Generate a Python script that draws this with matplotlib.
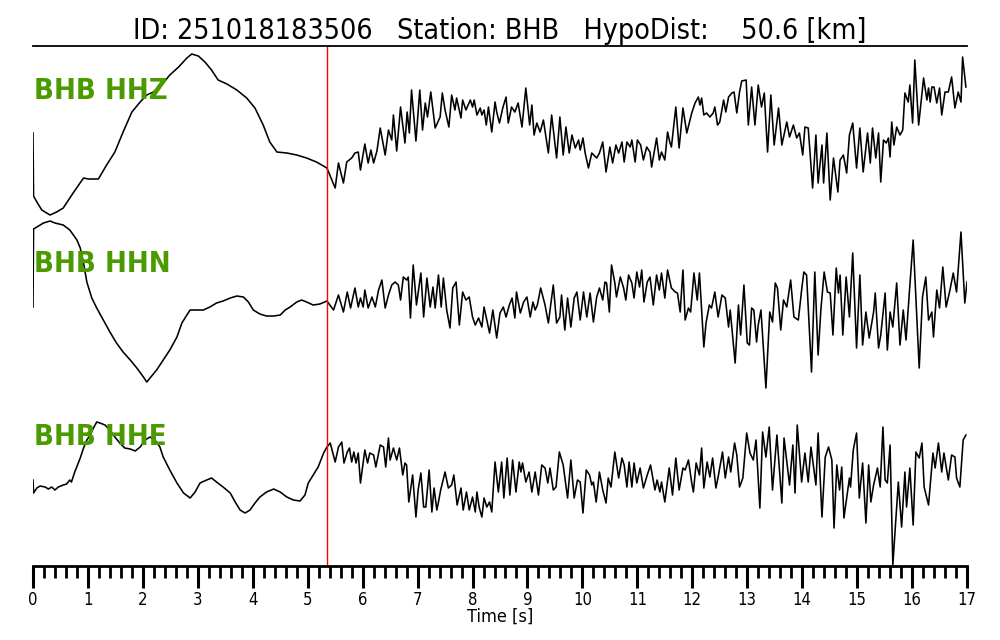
import matplotlib
matplotlib.use("Agg")
import matplotlib.pyplot as plt
from matplotlib.ticker import MultipleLocator

# --- waveform data (time in s, amplitude in arbitrary counts) ---
HHZ_T = [0.0, 0.01, 0.07, 0.16, 0.31, 0.43, 0.55, 0.73, 0.92, 1.01,
         1.19, 1.34, 1.49, 1.64, 1.80, 1.95, 2.07, 2.19, 2.34, 2.49,
         2.65, 2.80, 2.89, 3.01, 3.13, 3.25, 3.37, 3.53, 3.71, 3.89,
         4.04, 4.19, 4.31, 4.44, 4.62, 4.80, 4.98, 5.16, 5.35,
         5.50, 5.56, 5.65, 5.71, 5.80, 5.86, 5.92, 5.96, 6.04, 6.10,
         6.15, 6.20, 6.26, 6.32, 6.41, 6.47, 6.53, 6.56, 6.62, 6.69,
         6.77, 6.81, 6.85, 6.89, 6.97, 7.04, 7.09, 7.14, 7.18, 7.24,
         7.32, 7.41, 7.45, 7.50, 7.57, 7.62, 7.68, 7.71, 7.79, 7.82,
         7.88, 7.96, 8.00, 8.03, 8.08, 8.14, 8.17, 8.21, 8.25, 8.29,
         8.35, 8.41, 8.44, 8.49, 8.55, 8.61, 8.65, 8.71, 8.77, 8.83,
         8.90, 8.97, 9.04, 9.08, 9.12, 9.17, 9.23, 9.29, 9.38, 9.44,
         9.53, 9.59, 9.65, 9.70, 9.76, 9.81, 9.87, 9.93, 9.96, 10.01,
         10.05, 10.11, 10.17, 10.26, 10.31, 10.37, 10.43, 10.50, 10.55, 10.61,
         10.66, 10.72, 10.76, 10.81, 10.87, 10.90, 10.96, 11.00, 11.06, 11.11,
         11.17, 11.23,
         11.26, 11.35, 11.40, 11.44, 11.50, 11.55, 11.59, 11.62, 11.70, 11.76,
         11.83, 11.90, 11.99, 12.05, 12.11, 12.14, 12.17, 12.21, 12.26, 12.32,
         12.38, 12.41, 12.46, 12.50, 12.57, 12.61, 12.66, 12.72, 12.76, 12.81,
         12.86, 12.90, 12.98, 13.02, 13.08, 13.14, 13.20, 13.26, 13.31, 13.37,
         13.43, 13.49, 13.57, 13.63, 13.72, 13.77, 13.84, 13.90, 13.95, 14.01,
         14.05, 14.11, 14.19, 14.25, 14.29, 14.36, 14.39, 14.45, 14.51, 14.57,
         14.65, 14.69, 14.75, 14.81, 14.86, 14.92, 14.99, 15.05, 15.11, 15.19,
         15.24, 15.28, 15.34, 15.39, 15.43, 15.48, 15.53, 15.57, 15.60, 15.63,
         15.67, 15.72, 15.78, 15.83, 15.87, 15.93, 15.96, 16.01, 16.05, 16.12,
         16.21, 16.27, 16.30, 16.33, 16.36, 16.40, 16.45, 16.50, 16.54, 16.60,
         16.66, 16.72, 16.78, 16.84, 16.89, 16.92, 16.98]
HHZ_A = [-7, -70, -76, -84, -89, -86, -82, -67, -52, -53,
         -53, -39, -26, -6, 14, 24, 31, 34, 41, 51,
         59, 68, 72, 70, 64, 56, 46, 42, 36, 28,
         18, 1, -16, -26, -27, -29, -32, -36, -42,
         -62, -37, -57, -36, -32, -27, -26, -44, -18, -37,
         -24, -37, -25, -2, -29, -4, -14, 11, -25, 19,
         -17, 14, -7, 36, -15, 36, -4, 23, 9, 34,
         -2, 9, 33, 16, -1, 31, 16, 28, 8, 26,
         16, 26, 19, 26, 11, 18, 11, 16, 1, 19,
         -6, 24, 14, 3, 18, 29, 3, 19, 14, 23,
         -1, 38, 1, 21, -9, 3, -6, 6, -27, 11,
         -32, 9, -29, -1, -27, -9, -22, -14, -24, -12,
         -27, -42, -27, -32, -27, -16, -46, -21, -37, -19,
         -27, -16, -36, -16, -21, -14, -36, -14, -19, -34,
         -21, -26,
         -41, -12, -34, -26, -34, -6, -16, -21, 19, -22,
         18, -7, 13, 23, 29, 21, 28, 11, 13, 9,
         13, 19, 1, 4, 26, 14, 29, 33, 34, 13,
         34, 45, 46, 1, 39, 1, 41, 19, 33, -26,
         31, -19, 18, -19, 4, -11, 1, -12, -7, -29,
         -1, -2, -62, -9, -57, -19, -57, -7, -74, -32,
         -66, -34, -29, -47, -9, 3, -42, -2, -46, -7,
         -37, -2, -32, -7, -56, -14, -17, -12, -31, 4,
         -19, -1, -9, -4, 33, 24, 41, 3, 66, 1,
         48, 26, 38, 24, 39, 39, 23, 38, 11, 34,
         34, 49, 18, 34, 24, 69, 39]

HHN_T = [0.0, 0.01, 0.07, 0.19, 0.31, 0.40, 0.55, 0.67, 0.80, 0.86,
         0.92, 0.98, 1.07, 1.16, 1.28, 1.40, 1.52, 1.64, 1.77, 1.89,
         2.01, 2.07, 2.13, 2.25, 2.37, 2.49, 2.62, 2.71, 2.80, 2.86,
         2.98, 3.10, 3.22, 3.34, 3.46, 3.59, 3.71, 3.83, 3.92, 4.01,
         4.13, 4.25, 4.38, 4.50, 4.59, 4.68, 4.80, 4.89, 4.98, 5.10,
         5.22, 5.35,
         5.47, 5.56, 5.65, 5.72, 5.78, 5.86, 5.92, 5.96, 6.01, 6.04,
         6.10, 6.17, 6.23, 6.29, 6.35, 6.41, 6.47, 6.53, 6.59, 6.65,
         6.69, 6.74, 6.80, 6.83, 6.87, 6.92, 6.98, 7.06, 7.11, 7.17,
         7.23, 7.28, 7.32, 7.38, 7.43, 7.47, 7.53, 7.59, 7.64, 7.70,
         7.76, 7.82, 7.88, 7.94, 8.00, 8.05, 8.11, 8.17, 8.21, 8.26,
         8.31, 8.37, 8.44, 8.50, 8.56, 8.61, 8.67, 8.72, 8.77, 8.80,
         8.87, 8.93, 8.99, 9.05, 9.10, 9.14, 9.18, 9.24, 9.32, 9.38,
         9.47, 9.53, 9.59, 9.62, 9.68, 9.73, 9.79, 9.85, 9.90, 9.96,
         10.02, 10.08, 10.14, 10.20, 10.26, 10.31, 10.37, 10.41, 10.44, 10.49,
         10.53, 10.59, 10.62, 10.69, 10.75, 10.79, 10.84, 10.90, 10.94, 10.99,
         11.04, 11.08,
         11.12, 11.18, 11.23, 11.29, 11.35, 11.40, 11.44, 11.50, 11.55, 11.62,
         11.69, 11.73, 11.78, 11.83, 11.87, 11.93, 11.97, 12.03, 12.09, 12.13,
         12.21, 12.25, 12.31, 12.35, 12.41, 12.47, 12.54, 12.60, 12.66, 12.69,
         12.78, 12.84, 12.88, 12.94, 13.00, 13.04, 13.08, 13.12, 13.17, 13.20,
         13.25, 13.34, 13.41, 13.46, 13.51, 13.55, 13.61, 13.66, 13.72, 13.79,
         13.85, 13.93, 13.99, 14.03, 14.08, 14.17, 14.23, 14.29, 14.34, 14.40,
         14.46, 14.51, 14.56, 14.62, 14.66, 14.69, 14.74, 14.80, 14.86, 14.92,
         14.99, 15.05, 15.10, 15.16, 15.22, 15.30, 15.33, 15.39, 15.43, 15.51,
         15.55, 15.60, 15.65, 15.72, 15.78, 15.84, 15.89, 15.95, 16.02, 16.13,
         16.19, 16.25, 16.30, 16.36, 16.39, 16.45, 16.50, 16.56, 16.62, 16.69,
         16.75, 16.81, 16.89, 16.96, 17.0]
HHN_A = [-7, 71, 73, 77, 79, 77, 75, 70, 60, 52,
         37, 18, 2, -8, -20, -32, -43, -52, -60, -68,
         -77, -82, -78, -70, -60, -50, -37, -23, -15, -10,
         -10, -10, -7, -3, -1, 2, 4, 3, -2, -10,
         -14, -16, -16, -15, -10, -7, -2, 0, -2, -5,
         -4, -1,
         -10, 5, -12, 8, -8, 12, -7, 2, -7, 10,
         -8, 3, -7, 10, 20, -8, 5, 15, 18, 15,
         0, 23, 20, 23, -18, 35, -5, 27, -17, 22,
         -7, 13, -8, 25, -7, 22, -10, -28, 12, 18,
         -25, 8, 0, 3, -17, -25, -18, -27, -7, -20,
         -33, -10, -38, -13, -7, -17, -5, 2, -18, 8,
         -13, -2, 3, -17, -2, -10, -5, 12, -5, -23,
         15, -23, -17, 5, -30, 2, -27, 2, 8, -20,
         8, -17, 7, -22, 3, 12, 0, 18, 17, -12,
         35, 17, 3, 23, 12, 0, 25, 17, 2, 28,
         13, 30,
         -2, 18, 23, -5, 25, 10, 27, 2, 30, 12,
         8, 7, -12, 30, -20, -8, -12, 27, 0, 27,
         -47, -23, -5, -8, 8, -17, 5, 2, -27, -10,
         -63, -5, -35, 15, -43, -45, -8, -10, -42, -25,
         -10, -88, -12, -22, 17, 12, -30, 0, -7, 20,
         -17, -20, 10, 28, 25, -72, 28, -55, -10, 28,
         8, 7, -35, 32, 7, 25, -35, 23, -17, 47,
         -48, 25, -45, -12, -38, -12, 7, -48, -35, 7,
         -50, -12, -27, 17, -45, -10, -40, 7, 60, -68,
         3, 23, -20, -12, -37, 10, -8, 33, -7, 10,
         27, 8, 68, -3, 18]

HHE_T = [0.0, 0.01, 0.07, 0.13, 0.22, 0.28, 0.34, 0.40, 0.46, 0.55,
         0.61, 0.67, 0.70, 0.76, 0.86, 0.92, 0.98, 1.04, 1.10, 1.16,
         1.22, 1.31, 1.40, 1.49, 1.58, 1.67, 1.77, 1.86, 1.95, 2.04,
         2.13, 2.22, 2.31, 2.37, 2.49, 2.62, 2.74, 2.86, 2.95, 3.04,
         3.16, 3.25, 3.34, 3.46, 3.59, 3.68, 3.77, 3.86, 3.95, 4.04,
         4.13, 4.25, 4.38, 4.50, 4.62, 4.74, 4.86, 4.95, 5.01, 5.10,
         5.19, 5.29, 5.35, 5.41,
         5.50, 5.56, 5.62, 5.66, 5.72, 5.76, 5.80, 5.84, 5.88, 5.92,
         5.96, 6.04, 6.09, 6.13, 6.20, 6.24, 6.32, 6.38, 6.42, 6.47,
         6.50, 6.56, 6.62, 6.67, 6.73, 6.77, 6.80, 6.84, 6.91, 6.97,
         7.01, 7.06, 7.11, 7.15, 7.21, 7.26, 7.30, 7.35, 7.38, 7.42,
         7.50, 7.56, 7.62, 7.66, 7.72, 7.79, 7.83, 7.89, 7.94, 8.00,
         8.05, 8.08, 8.12, 8.17, 8.21, 8.26, 8.31, 8.35, 8.41, 8.47,
         8.53, 8.57, 8.63, 8.68, 8.73, 8.79, 8.85, 8.88, 8.91, 8.97,
         9.03, 9.08, 9.14, 9.20, 9.26, 9.32, 9.37, 9.41, 9.47, 9.52,
         9.58, 9.65, 9.73, 9.79, 9.85, 9.91, 9.96, 10.01, 10.07, 10.13,
         10.17, 10.20, 10.25, 10.31, 10.37, 10.43, 10.47, 10.52, 10.59, 10.66,
         10.72, 10.76, 10.81, 10.85, 10.90, 10.94, 10.99, 11.05, 11.11,
         11.18, 11.24, 11.32, 11.36, 11.41, 11.44, 11.50, 11.58, 11.64, 11.70,
         11.76, 11.83, 11.87, 11.93, 11.99, 12.02, 12.07, 12.13, 12.17, 12.21,
         12.27, 12.32, 12.37, 12.43, 12.47, 12.55, 12.60, 12.66, 12.70, 12.77,
         12.81, 12.86, 12.92, 12.99, 13.05, 13.11, 13.16, 13.23, 13.28, 13.34,
         13.40, 13.46, 13.54, 13.63, 13.67, 13.77, 13.83, 13.87, 13.91, 13.99,
         14.05, 14.11, 14.16, 14.25, 14.29, 14.36, 14.42, 14.48, 14.54, 14.58,
         14.63, 14.68, 14.72, 14.76, 14.81, 14.86, 14.88, 14.93, 14.99, 15.04,
         15.10, 15.16, 15.21, 15.25, 15.30, 15.37, 15.42, 15.47, 15.51, 15.55,
         15.60, 15.65, 15.75, 15.81, 15.87, 15.90, 15.96, 16.02, 16.07, 16.13,
         16.18, 16.22, 16.30, 16.38, 16.42, 16.48, 16.54, 16.58, 16.66, 16.72,
         16.78, 16.81, 16.87, 16.93, 16.98]
HHE_A = [10, -3, 2, 4, 3, 1, 3, 0, 3, 5,
         6, 10, 8, 18, 32, 42, 50, 55, 62, 68,
         67, 65, 60, 53, 47, 42, 41, 39, 43, 50,
         53, 50, 43, 33, 20, 7, -3, -8, -2, 7,
         10, 12, 8, 3, -3, -12, -20, -23, -20, -13,
         -7, -2, 1, -2, -7, -10, -11, -5, 7, 15,
         23, 37, 43, 47,
         28, 43, 48, 27, 38, 42, 28, 38, 27, 37,
         7, 40, 27, 37, 35, 23, 45, 43, 23, 52,
         30, 42, 30, 42, 15, 27, 25, -12, 15, -27,
         0, 17, -17, -17, 20, -22, 2, -20, -12, 0,
         18, 2, 5, 15, -15, 2, -20, -2, -20, -7,
         -22, -2, -17, -27, -8, -17, -12, -22, 28, -2,
         28, -8, 32, -5, 30, -2, 28, 18, 27, 8,
         18, -2, 18, -5, 25, 22, 7, 22, 0, 3,
         38, 25, -8, 30, -8, 10, 8, -23, 20, 15,
         5, 8, -12, 18, 0, -13, 12, 3, 38, 12,
         32, 25, 3, 28, 3, 27, 7, 22, 2,
         15, 25, 0, 10, -2, 8, -12, 22, -5, 32,
         0, 22, 20, 30, 7, -2, 27, 15, 42, 2,
         28, 13, 32, 2, 13, 38, 12, 33, 18, 47,
         35, 3, 12, 57, 37, 30, 50, -18, 58, 33,
         63, 0, 55, -13, 52, 5, 45, -3, 65, 8,
         37, 8, 43, 5, 57, -27, 33, 43, 30, -38,
         25, 0, 23, -28, -8, 12, 3, 40, 57, -8,
         27, -33, 25, -12, 5, 22, 3, 63, 10, 7,
         45, -75, 8, -37, 18, -17, 22, -35, 38, 32,
         47, 3, -15, 37, 22, 47, 18, 37, 10, 35,
         33, 12, 3, 50, 55]

CHANNELS = ["BHB HHZ", "BHB HHN", "BHB HHE"]
TIMES = [HHZ_T, HHN_T, HHE_T]
AMPS = [HHZ_A, HHN_A, HHE_A]
OFFSETS = [0, -174, -364]
LABEL_Y = [35, -138, -311]

P_PICK = 5.35
TITLE = "ID: 251018183506   Station: BHB   HypoDist:    50.6 [km]"

fig = plt.figure(figsize=(10, 6.4), dpi=100)
ax = fig.add_axes([0.033, 0.1156, 0.934, 0.8125])

for t, a, off, name, ly in zip(TIMES, AMPS, OFFSETS, CHANNELS, LABEL_Y):
    ax.plot(t, [v + off for v in a], color="black", lw=1.15)
    ax.text(0.01, ly, name, color="#4a9a00", fontsize=21, fontweight="bold",
            fontstretch="condensed", ha="left", va="center")

ax.axvline(P_PICK, color="red", lw=1.0)

ax.set_xlim(0, 17)
ax.set_ylim(-440, 80)
ax.set_yticks([])
for side in ["left", "right"]:
    ax.spines[side].set_visible(False)
ax.spines["top"].set_linewidth(1.3)
ax.spines["bottom"].set_linewidth(2.0)

ax.xaxis.set_major_locator(MultipleLocator(1))
ax.xaxis.set_minor_locator(MultipleLocator(0.2))
ax.tick_params(axis="x", which="major", direction="out", length=16, width=2.2,
               labelsize=12, pad=2)
ax.tick_params(axis="x", which="minor", direction="out", length=8.5, width=2.0)
for lbl in ax.get_xticklabels():
    lbl.set_fontstretch("condensed")

ax.set_xlabel("Time [s]", fontsize=13, fontstretch="condensed", labelpad=-1)
ax.set_title(TITLE, fontsize=20.5, fontstretch="condensed", pad=5)

fig.savefig("out.png", dpi=100)
